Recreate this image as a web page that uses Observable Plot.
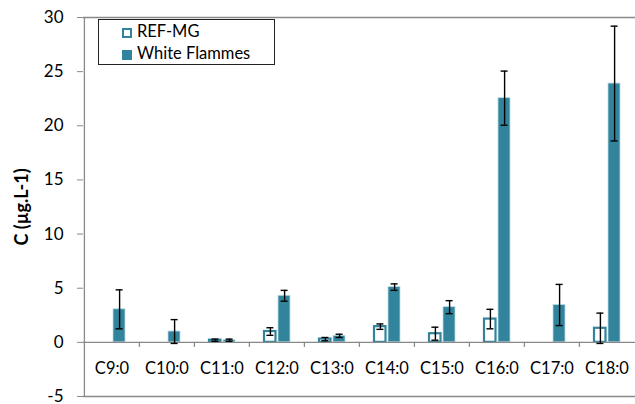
<!DOCTYPE html>
<html><head><meta charset="utf-8">
<script src="https://cdn.jsdelivr.net/npm/d3@7"></script>
<script src="https://cdn.jsdelivr.net/npm/@observablehq/plot@0.6"></script>
<style>
body{margin:0;background:#fff;}
#wrap{position:relative;width:635px;height:404px;font-family:Lato,"Liberation Sans",sans-serif;overflow:hidden;}
#legend{position:absolute;left:98px;top:19px;width:177px;height:46px;border:1px solid #222;background:#fff;font-size:16.5px;color:#000;box-sizing:border-box;}
.item{position:absolute;left:23px;height:20px;line-height:20px;}
.sw{display:inline-block;width:10px;height:10px;vertical-align:-1px;margin-right:5px;box-sizing:border-box;}
#ylab{position:absolute;left:21px;top:207px;transform:translate(-50%,-50%) rotate(-90deg);font-weight:bold;font-size:18px;white-space:nowrap;}
</style></head>
<body><div id="wrap"><div id="chart"></div>
<div id="ylab">C (µg.L-1)</div>
<div id="legend"></div></div>
<script>
const categories = ["C9:0","C10:0","C11:0","C12:0","C13:0","C14:0","C15:0","C16:0","C17:0","C18:0"];
const seriesNames = ["REF-MG","White Flammes"];
const refMG = [0, 0, 0.2, 1.0, 0.3, 1.45, 0.8, 2.15, 0, 1.3];
const refErr = [0, 0, 0.1, 0.35, 0.15, 0.25, 0.6, 0.9, 0, 1.4];
const whiteFlammes = [3.05, 1.0, 0.2, 4.3, 0.6, 5.1, 3.25, 22.55, 3.45, 23.9];
const wfErr = [1.8, 1.1, 0.1, 0.5, 0.15, 0.3, 0.6, 2.5, 1.9, 5.3];
const yTicks = [-5, 0, 5, 10, 15, 20, 25, 30];

const teal = "#31849b";
const axisGray = "#898989";
const rows = categories.map((c, i) => ({c, ref: refMG[i], refE: refErr[i], wf: whiteFlammes[i], wfE: wfErr[i]}));
const refRows = rows.filter(d => d.ref > 0);
const W = 635, H = 404, ML = 83, MR = 0;
const bw = (W - ML - MR) / categories.length;

const chart = Plot.plot({
  width: W, height: H,
  marginLeft: ML, marginRight: MR, marginTop: 17, marginBottom: 8,
  x: {domain: categories, padding: 0, axis: null},
  y: {domain: [-5, 30], axis: null},
  style: {fontFamily: "Lato, 'Liberation Sans', sans-serif", fontSize: "16px", color: "#000", background: "#fff"},
  marks: [
    Plot.ruleY([-5, 30], {stroke: axisGray, strokeWidth: 1.3}),
    Plot.barY(refRows, {x: "c", y: "ref", fill: "white", stroke: teal, strokeWidth: 2.2, insetLeft: 15, insetRight: 28.5}),
    Plot.barY(rows, {x: "c", y: "wf", fill: teal, stroke: "#bcdce6", strokeWidth: 0.8, insetLeft: 29, insetRight: 14}),
    Plot.ruleY([0], {stroke: axisGray, strokeWidth: 1.3}),
    Plot.ruleX(categories.slice(1), {x: d => d, dx: -bw / 2, y1: 0, y2: 0, insetBottom: -5, stroke: axisGray, strokeWidth: 1.3}),
    Plot.ruleX([categories[0]], {x: d => d, dx: -bw / 2, y1: -5, y2: 30, stroke: axisGray, strokeWidth: 1.3}),
    Plot.ruleX(refRows, {x: "c", y1: d => d.ref - d.refE, y2: d => d.ref + d.refE, dx: -6.6, stroke: "#000", strokeWidth: 1.4}),
    Plot.tickY(refRows, {x: "c", y: d => d.ref + d.refE, dx: -6.6, insetLeft: 24, insetRight: 24, stroke: "#000", strokeWidth: 1.4}),
    Plot.tickY(refRows, {x: "c", y: d => d.ref - d.refE, dx: -6.6, insetLeft: 24, insetRight: 24, stroke: "#000", strokeWidth: 1.4}),
    Plot.ruleX(rows, {x: "c", y1: d => d.wf - d.wfE, y2: d => d.wf + d.wfE, dx: 7.6, stroke: "#000", strokeWidth: 1.4}),
    Plot.tickY(rows, {x: "c", y: d => d.wf + d.wfE, dx: 7.6, insetLeft: 24, insetRight: 24, stroke: "#000", strokeWidth: 1.4}),
    Plot.tickY(rows, {x: "c", y: d => d.wf - d.wfE, dx: 7.6, insetLeft: 24, insetRight: 24, stroke: "#000", strokeWidth: 1.4}),
    Plot.axisY({ticks: yTicks, tickSize: 6, tickPadding: 14, tickFormat: d => String(d), stroke: axisGray, fill: "#000", fontSize: 17, label: null}),
    Plot.axisX({anchor: "bottom", tickSize: 0, tickPadding: 0, dy: -34, fill: "#000", fontSize: 16.5, label: null})
  ]
});
document.getElementById("chart").appendChild(chart);

const legend = document.getElementById("legend");
seriesNames.forEach((name, i) => {
  const it = document.createElement("div");
  it.className = "item";
  it.style.top = (1 + i * 22) + "px";
  const sw = document.createElement("span");
  sw.className = "sw";
  if (i === 0) { sw.style.background = "#fff"; sw.style.border = "2px solid " + teal; }
  else { sw.style.background = teal; }
  it.appendChild(sw);
  it.appendChild(document.createTextNode(name));
  legend.appendChild(it);
});
</script></body></html>
